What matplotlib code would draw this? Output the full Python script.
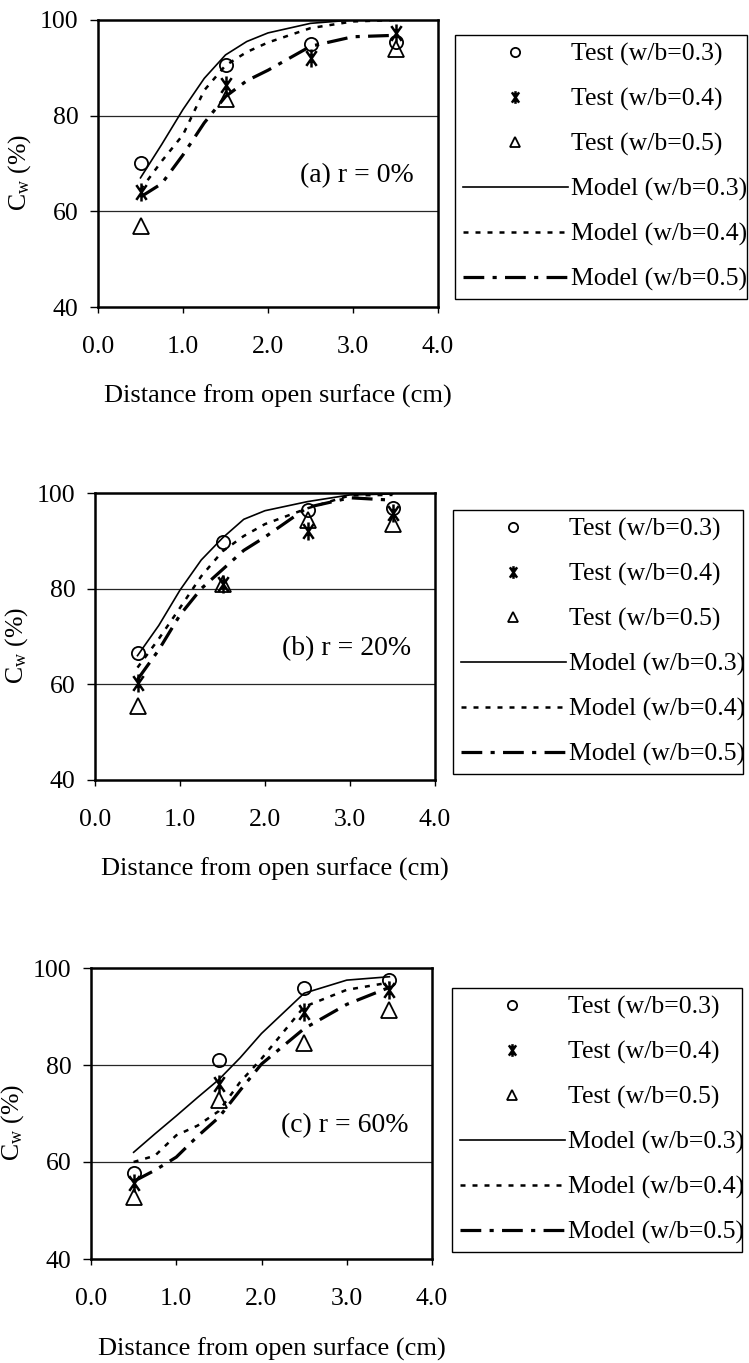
import numpy as np
import matplotlib
matplotlib.use("Agg")
import matplotlib.pyplot as plt
from matplotlib.path import Path

plt.rcParams.update({
    "font.family": "Liberation Serif",
    "mathtext.fontset": "custom",
    "mathtext.rm": "Liberation Serif",
    "mathtext.it": "Liberation Serif:italic",
})

W, H = 749, 1363

# depth of the test points and of the model curve samples (cm)
x_test = [0.5, 1.5, 2.5, 3.5]
x_model = [0.5, 0.75, 1.0, 1.25, 1.5, 1.75, 2.0, 2.5, 3.0, 3.5]

# (a) r = 0%
test_a_03 = [70.0, 90.5, 95.0, 95.5]
test_a_04 = [64.0, 86.5, 92.0, 97.3]
test_a_05 = [57.0, 83.5, np.nan, 94.0]
model_a_03 = [67.0, 74.0, 81.3, 87.8, 92.7, 95.5, 97.3, 99.3, 100.0, 100.0]
model_a_04 = [64.5, 70.5, 76.0, 85.3, 90.5, 93.3, 95.3, 98.3, 99.7, 100.0]
model_a_05 = [63.0, 65.8, 71.8, 78.5, 84.0, 87.3, 89.5, 94.5, 96.5, 96.8]

# (b) r = 20%
test_b_03 = [66.6, 89.7, 96.4, 96.8]
test_b_04 = [60.3, 81.0, 92.0, 95.8]
test_b_05 = [55.4, 81.0, 94.3, 93.5]
model_b_03 = [66.0, 72.3, 79.7, 86.0, 90.6, 94.5, 96.3, 98.2, 99.6, 99.8]
model_b_04 = [63.5, 69.5, 76.0, 82.6, 87.8, 91.0, 93.5, 96.8, 99.5, 99.6]
model_b_05 = [61.0, 67.2, 74.5, 80.0, 84.0, 88.0, 90.8, 97.0, 99.0, 98.5]

# (c) r = 60%
test_c_03 = [57.7, 81.0, 95.8, 97.5]
test_c_04 = [55.6, 76.0, 91.0, 95.5]
test_c_05 = [52.8, 72.8, 84.5, 91.3]
model_c_03 = [62.0, 65.8, 69.5, 73.3, 77.0, 81.5, 86.5, 94.8, 97.5, 98.2]
model_c_04 = [60.0, 61.3, 65.5, 67.5, 70.5, 76.5, 81.3, 92.0, 95.5, 97.0]
model_c_05 = [56.0, 58.3, 61.0, 65.3, 69.2, 74.8, 80.2, 87.5, 92.5, 96.0]

panels = [
    ("(a) r = 0%", (test_a_03, test_a_04, test_a_05), (model_a_03, model_a_04, model_a_05)),
    ("(b) r = 20%", (test_b_03, test_b_04, test_b_05), (model_b_03, model_b_04, model_b_05)),
    ("(c) r = 60%", (test_c_03, test_c_04, test_c_05), (model_c_03, model_c_04, model_c_05)),
]
wb = ["0.3", "0.4", "0.5"]

# plot boxes and legend frames in pixels: (left, top, right, bottom)
boxes = [((98, 20, 438, 307), (455, 35, 747, 302)),
         ((95, 493, 435, 780), (453, 510, 743, 775)),
         ((91, 968, 432, 1259), (452, 988, 742, 1255))]

# asterisk: vertical bar crossed by a steep X
ang = np.deg2rad(55)
ca, sa = np.cos(ang), np.sin(ang)
star = Path([(0, -1), (0, 1), (-ca, -sa), (ca, sa), (-ca, sa), (ca, -sa)],
            [Path.MOVETO, Path.LINETO] * 3)

markers = [dict(marker="o", ms=9.5, mew=1.3),
           dict(marker=star, ms=13, mew=1.8),
           dict(marker="^", ms=11, mew=1.3)]
line_styles = [dict(ls="-", lw=1.2),
               dict(ls=(0, (2.0, 2.8)), lw=1.8),
               dict(ls=(0, (6.5, 2.6, 1.3, 2.6)), lw=2.3)]

fig = plt.figure(figsize=(W / 100, H / 100), dpi=100, facecolor="white")

for (tag, tests, models), ((l, t, r, b), (lx0, ly0, lx1, ly1)) in zip(panels, boxes):
    ax = fig.add_axes([l / W, 1 - b / H, (r - l) / W, (b - t) / H])
    handles = []
    for ys, st in zip(tests, markers):
        h, = ax.plot(x_test, ys, ls="none", color="black", mfc="none", mec="black",
                     zorder=4, **st)
        handles.append(h)
    for ys, st in zip(models, line_styles):
        h, = ax.plot(x_model, ys, color="black", zorder=3, **st)
        handles.append(h)
    labels = [f"Test (w/b={v})" for v in wb] + [f"Model (w/b={v})" for v in wb]

    ax.set_xlim(0, 4)
    ax.set_ylim(40, 100)
    ax.set_xticks([0, 1, 2, 3, 4])
    ax.set_xticklabels(["0.0", "1.0", "2.0", "3.0", "4.0"])
    ax.set_yticks([40, 60, 80, 100])
    for yg in (60, 80):
        ax.axhline(yg, color="0.15", lw=0.9, zorder=1)
    for s in ax.spines.values():
        s.set_linewidth(1.8)
    ax.tick_params(axis="x", direction="out", length=4, width=1.0, pad=17, labelsize=18.5)
    ax.tick_params(axis="y", direction="out", length=6, width=1.0, pad=8, labelsize=18.5)
    ax.set_ylabel(r"C$_{\mathrm{w}}$ (%)", fontsize=18.5)
    ax.yaxis.set_label_coords(-0.19, 0.47)
    ax.set_xlabel("Distance from open surface (cm)", fontsize=19)
    ax.xaxis.set_label_coords(0.53, -0.27)
    ax.text(3.72, 67.5, tag, ha="right", va="center", fontsize=20)

    bbox = (lx0 / W, 1 - ly0 / H, (lx1 - lx0) / W, 0)
    leg = ax.legend(handles, labels, loc="upper left", bbox_to_anchor=bbox, mode="expand",
                    bbox_transform=fig.transFigure, borderaxespad=0, frameon=True,
                    fancybox=False, edgecolor="black", framealpha=1, fontsize=18.5,
                    handlelength=4.1, handletextpad=0.1, labelspacing=0.84,
                    borderpad=0.3, markerscale=0.7)
    leg.get_frame().set_linewidth(1.0)

fig.savefig("out.png", dpi=100, facecolor="white")
